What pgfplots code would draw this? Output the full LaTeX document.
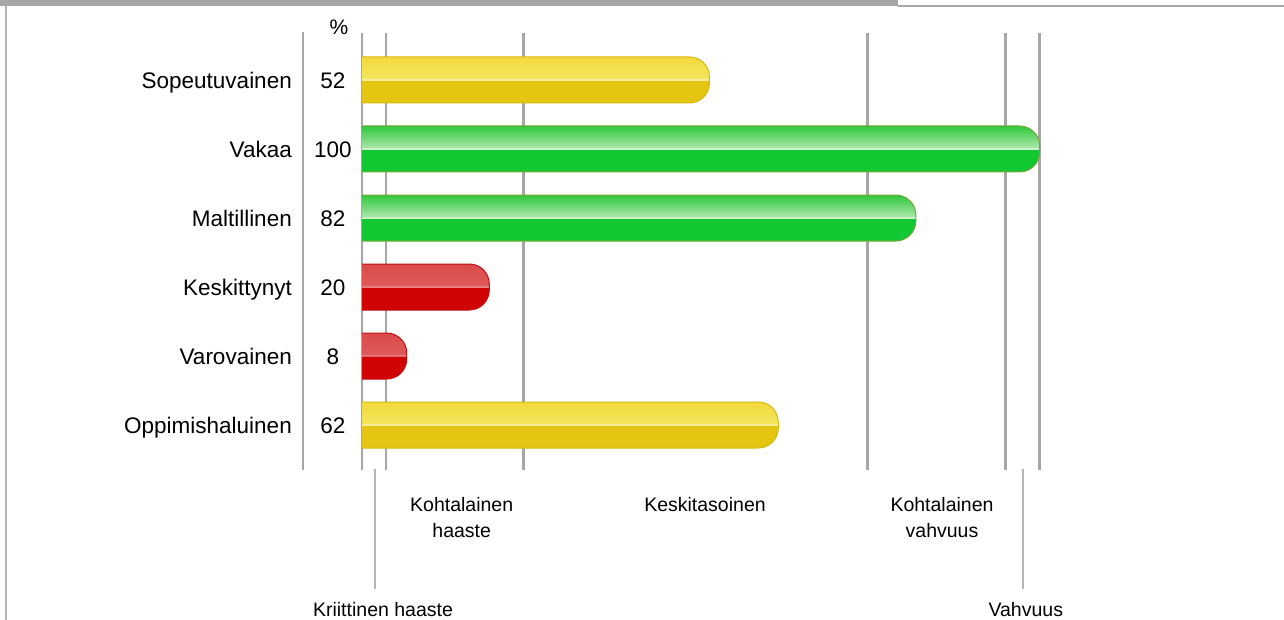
\documentclass[border=0pt]{standalone}
\usepackage{pgfplots}
\pgfplotsset{compat=1.18}
\usepackage{fontspec}
\setmainfont{Liberation Sans}

\definecolor{gridgray}{HTML}{A6A6A6}
\definecolor{framegray}{HTML}{B4B4B4}
% yellow
\definecolor{ybot}{HTML}{E4C512}
\definecolor{yhi}{HTML}{F7EEA0}
\definecolor{ylight}{HTML}{F3E65C}
\definecolor{ytop}{HTML}{F3D93C}
\definecolor{ybord}{HTML}{D6B80E}
% green
\definecolor{gbot}{HTML}{12C832}
\definecolor{ghi}{HTML}{CDEFCD}
\definecolor{glight}{HTML}{A6E6A6}
\definecolor{gtop}{HTML}{2FC83C}
\definecolor{gbord}{HTML}{74A83A}
% red
\definecolor{rbot}{HTML}{D00404}
\definecolor{rhi}{HTML}{E88282}
\definecolor{rlight}{HTML}{E05A5A}
\definecolor{rtop}{HTML}{DA4A4A}
\definecolor{rbord}{HTML}{C41010}

\pgfdeclareverticalshading{yshade}{100bp}{color(0bp)=(ybot); color(25bp)=(ybot); color(49.6bp)=(ybot); color(50bp)=(yhi); color(51bp)=(yhi); color(52bp)=(ylight); color(75bp)=(ytop); color(100bp)=(ytop)}
\pgfdeclareverticalshading{gshade}{100bp}{color(0bp)=(gbot); color(25bp)=(gbot); color(49.6bp)=(gbot); color(50bp)=(ghi); color(51bp)=(ghi); color(52bp)=(glight); color(75bp)=(gtop); color(100bp)=(gtop)}
\pgfdeclareverticalshading{rshade}{100bp}{color(0bp)=(rbot); color(25bp)=(rbot); color(49.6bp)=(rbot); color(50bp)=(rhi); color(51bp)=(rhi); color(52bp)=(rlight); color(75bp)=(rtop); color(100bp)=(rtop)}

\newcommand{\cl}[2]{\makebox[0pt][r]{#1\hspace{12bp}}\makebox[58bp]{#2}}

\begin{document}
\begin{tikzpicture}
% frame
\begin{scope}[x=1bp,y=1bp]
\fill[gridgray] (0,0) rectangle (898,-6.5);
\fill[gridgray] (898,-5) rectangle (1284,-6.7);
\draw[framegray, line width=2bp] (6,-6) -- (6,-620);
\draw[gridgray, line width=2.5bp] (303,-32) -- (303,-470);
\end{scope}

\begin{axis}[
  at={(362bp,-470bp)}, anchor=south west,
  scale only axis, width=688bp, height=437bp,
  xmin=1.5, xmax=101.5, ymin=-0.681, ymax=5.652, y dir=reverse,
  axis line style={draw=none}, tick style={draw=none}, major tick length=0pt,
  xtick={1.5,5,25,75,95,100},
  xticklabels={\empty,\empty,\empty,\empty,\empty,\empty},
  xmajorgrids, grid style={draw=gridgray, line width=2.5bp},
  ytick={0,1,2,3,4,5},
  yticklabels={\cl{Sopeutuvainen}{52},\cl{Vakaa}{100},\cl{Maltillinen}{82},\cl{Keskittynyt}{20},\cl{Varovainen}{8},\cl{Oppimishaluinen}{62}},
  yticklabel style={anchor=east, inner sep=0pt, font=\fontsize{22.5bp}{27bp}\selectfont, text height=16.2bp, text depth=0pt},
]
\addplot[shade, shading=yshade, draw=ybord, line width=1bp, rounded corners=20bp] coordinates {(-10,0) (-10,-0.3333) (52,-0.3333) (52,0.3333) (-10,0.3333) (-10,0)};
\addplot[shade, shading=gshade, draw=gbord, line width=1bp, rounded corners=20bp] coordinates {(-10,1) (-10,0.6667) (100,0.6667) (100,1.3333) (-10,1.3333) (-10,1)};
\addplot[shade, shading=gshade, draw=gbord, line width=1bp, rounded corners=20bp] coordinates {(-10,2) (-10,1.6667) (82,1.6667) (82,2.3333) (-10,2.3333) (-10,2)};
\addplot[shade, shading=rshade, draw=rbord, line width=1bp, rounded corners=20bp] coordinates {(-10,3) (-10,2.6667) (20,2.6667) (20,3.3333) (-10,3.3333) (-10,3)};
\addplot[shade, shading=rshade, draw=rbord, line width=1bp, rounded corners=20bp] coordinates {(-10,4) (-10,3.6667) (8,3.6667) (8,4.3333) (-10,4.3333) (-10,4)};
\addplot[shade, shading=yshade, draw=ybord, line width=1bp, rounded corners=20bp] coordinates {(-10,5) (-10,4.6667) (62,4.6667) (62,5.3333) (-10,5.3333) (-10,5)};
\end{axis}

\begin{scope}[x=1bp,y=1bp]
% percent sign
\node[anchor=base, inner sep=0pt, font=\fontsize{21bp}{25bp}\selectfont] at (339,-35) {\%};
% lower marker lines
\draw[framegray, line width=2bp] (375,-469) -- (375,-589);
\draw[framegray, line width=2bp] (1022.7,-469) -- (1022.7,-589);
% zone labels
\begin{scope}[every node/.style={anchor=base, inner sep=0pt, font=\fontsize{19.5bp}{26bp}\selectfont}]
\node at (461.7,-511) {Kohtalainen};
\node at (461.7,-537) {haaste};
\node at (705,-511) {Keskitasoinen};
\node at (942,-511) {Kohtalainen};
\node at (942,-537) {vahvuus};
\node at (383,-616.5) {Kriittinen haaste};
\node at (1025.8,-616.5) {Vahvuus};
\end{scope}
\pgfresetboundingbox
\useasboundingbox (0,0) rectangle (1284,-620);
\end{scope}
\end{tikzpicture}
\end{document}
